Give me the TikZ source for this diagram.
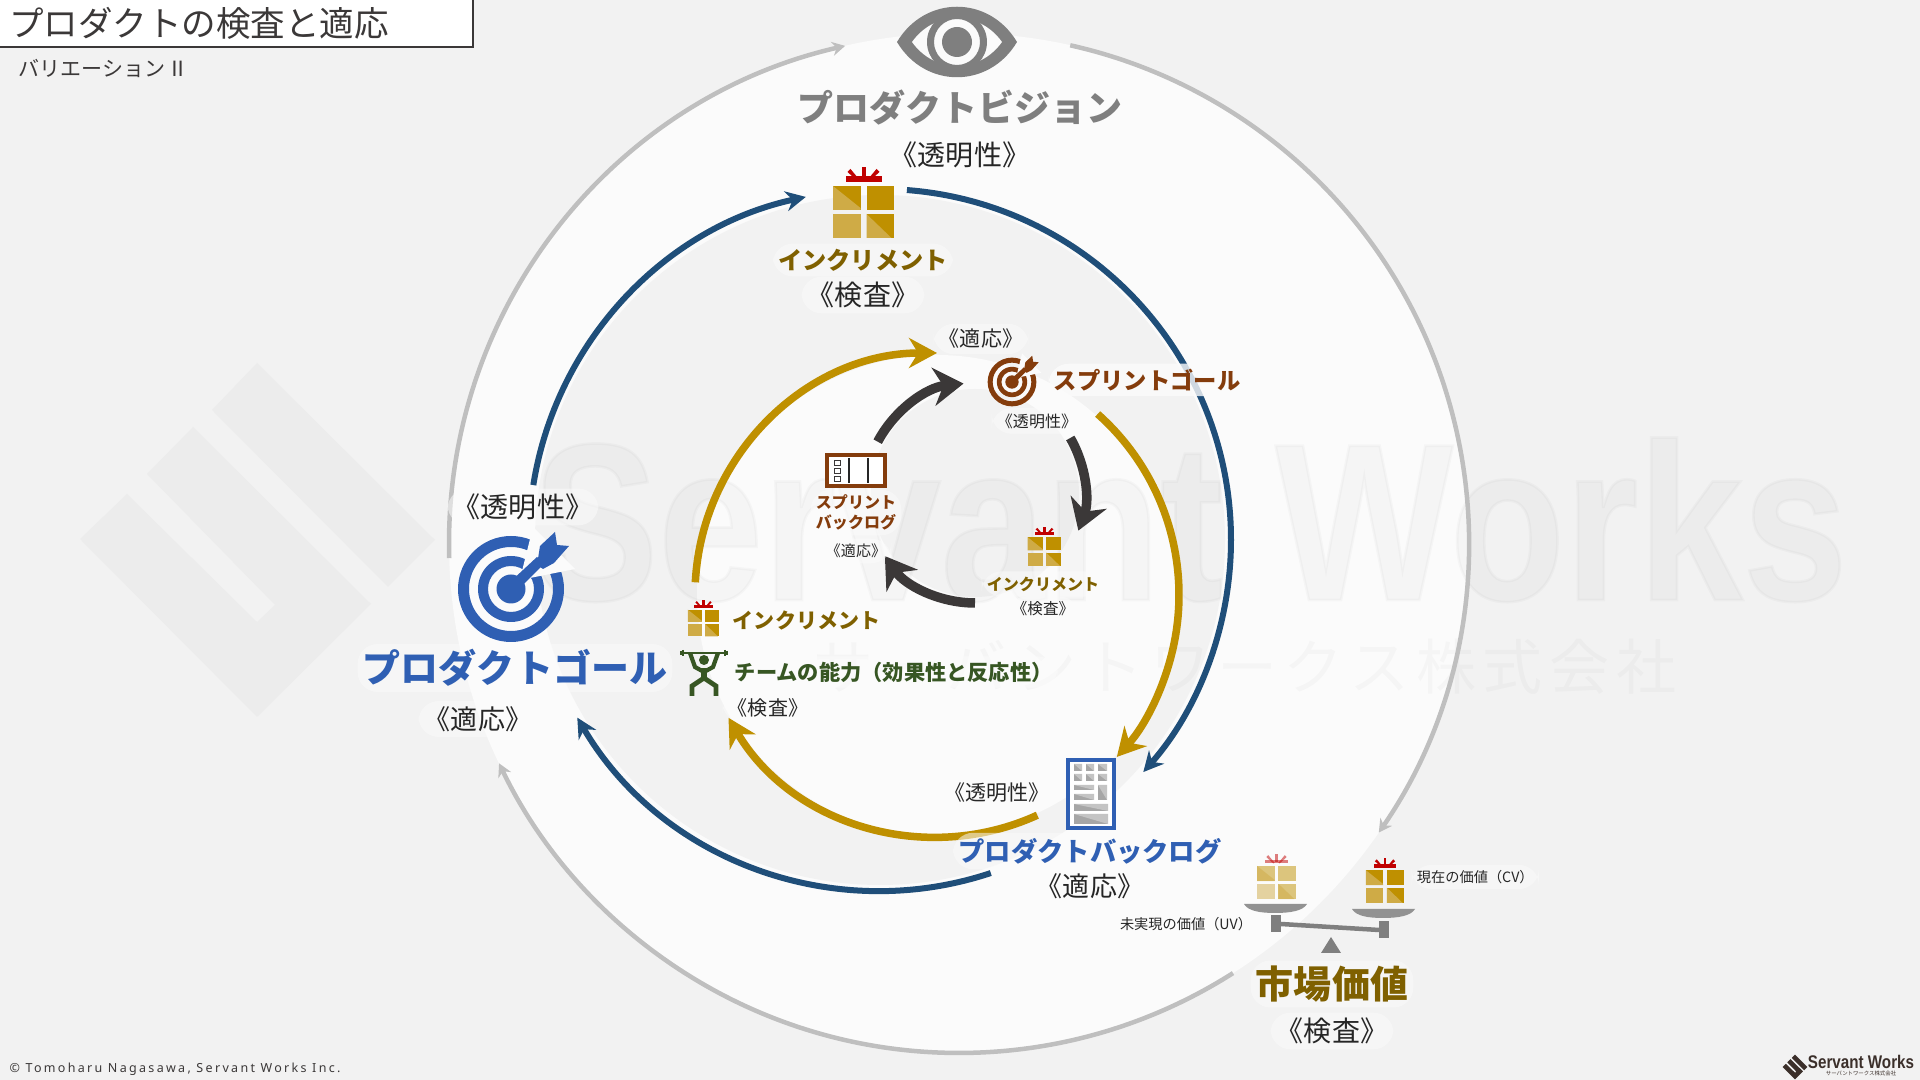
\documentclass[tikz,border=0pt]{standalone}
\usepackage{fontspec}
\setmainfont{Noto Sans CJK JP}
\newfontfamily\markfont[FakeStretch=0.84,FakeBold=1.2]{Liberation Sans}
\newfontfamily\brandfont[FakeStretch=0.83]{Liberation Sans}
\newfontfamily\copyfont[LetterSpace=18.5]{Noto Sans}
\newfontfamily\wmfont[LetterSpace=11.5]{Noto Sans CJK JP}
\newfontfamily\blackfont{Noto Sans CJK JP Black}
\usetikzlibrary{arrows.meta}
\definecolor{PageGrey}{HTML}{F2F2F2}
\definecolor{RingWhite}{HTML}{FBFBFB}
\definecolor{LabelInk}{HTML}{262626}
\definecolor{TitleInk}{HTML}{3B3838}
\definecolor{VisionGrey}{HTML}{7F7F7F}
\definecolor{OuterGrey}{HTML}{BFBFBF}
\definecolor{ProductBlue}{HTML}{2F5FB3}
\definecolor{LoopBlue}{HTML}{1F4E79}
\definecolor{LoopGold}{HTML}{BF9000}
\definecolor{LoopDark}{HTML}{3B3838}
\definecolor{GiftText}{HTML}{7F6000}
\definecolor{GiftLight}{HTML}{CFAB46}
\definecolor{GiftRed}{HTML}{C00000}
\definecolor{SprintBrown}{HTML}{843C0C}
\definecolor{TeamGreen}{HTML}{375623}
\definecolor{BlockGrey}{HTML}{A6A6A6}
\definecolor{BlockLight}{HTML}{C4C4C4}
\definecolor{BrandInk}{HTML}{3B2F2A}
% 1 unit of the picture = 1 px of the 1920x1080 slide
\newcommand{\pxfont}[1]{\pgfmathsetmacro\pxpt{#1*0.2845}\pgfmathsetmacro\pxbl{#1*0.2845*1.22}\fontsize{\pxpt}{\pxbl}\selectfont}
\tikzset{
  every node/.style={text=LabelInk, inner sep=1.5pt},
  halo/.style={fill=RingWhite, fill opacity=0.55, text opacity=1, rounded corners=2mm},
  heading/.style={halo, font=\pxfont{#1}\bfseries},
  phase/.style={halo, font=\pxfont{#1}},
  bluearc/.style={-{Stealth[length=2mm,width=2mm]}, draw=LoopBlue, line width=0.6mm},
  goldarc/.style={-{Stealth[length=2.8mm,width=3mm]}, draw=LoopGold, line width=0.75mm},
  darkarc/.style={-{Stealth[length=3mm,width=3.8mm]}, draw=LoopDark, line width=0.95mm},
  greyarc/.style={-{Stealth[length=1.3mm,width=1.4mm]}, draw=OuterGrey, line width=0.45mm},
  pics/giftbox/.style={code={
    \fill[GiftRed] (-18,-36) rectangle (18,-30);
    \fill[GiftRed] (-2,-32) rectangle (2,-45);
    \fill[GiftRed] (-3,-31) -- (-13,-43) -- (-16,-40) -- (-5,-30) -- cycle;
    \fill[GiftRed] (3,-31) -- (13,-43) -- (16,-40) -- (5,-30) -- cycle;
    \fill[LoopGold] (-30.5,-26) rectangle (-3,-2);
    \fill[GiftLight] (-30.5,-26) -- (-3,-4) -- (-3,-2) -- (-30.5,-2) -- cycle;
    \fill[LoopGold] (3,-26) rectangle (30.5,-2);
    \fill[GiftLight] (-30.5,2) rectangle (-3,26);
    \fill[LoopGold] (3,2) rectangle (30.5,26);
    \fill[GiftLight] (3,2) -- (28,26) -- (3,26) -- cycle;
  }},
  pics/target/.style={code={
    \fill[#1, even odd rule] (0,0) circle (53) (0,0) circle (42);
    \fill[#1, even odd rule] (0,0) circle (33) (0,0) circle (23);
    \fill[RingWhite] (10,-14) -- (14,-10) -- (64,-20) -- (22,-62) -- cycle;
    \fill[#1] (0,0) circle (14.5);
    \fill[#1] (-2,-6) -- (6,2) -- (33,-25) -- (26,-32) -- cycle;
    \fill[#1] (26,-24) -- (29,-43) -- (44,-57) -- (46,-44) -- (58,-43) -- (43,-26) -- (32,-20) -- cycle;
  }},
  pics/swmark/.style={code={
    \fill[#1] (0,-177) -- (178,0) -- (131,47) -- (-45,-130) -- cycle;
    \fill[#1] (-64,-113) -- (114,64) -- (0,177) -- (-177,-1) -- (-130,-46)
      -- (0,82) -- (18,65) -- (-110,-66) -- cycle;
  }},
}
\begin{document}
\begin{tikzpicture}[x=0.01cm,y=-0.01cm]
  \useasboundingbox (0,0) rectangle (1920,1080);
  \fill[PageGrey] (0,0) rectangle (1920,1080);
  % nested discs behind the loops
  \coordinate (visionC) at (959,543);
  \coordinate (blueC) at (880,540);
  \coordinate (goldC) at (937,595);
  \coordinate (darkC) at (975,493);
  \fill[RingWhite] (visionC) circle (510);
  \fill[PageGrey] (blueC) circle (345);
  \fill[RingWhite] (goldC) circle (240);
  \fill[PageGrey] (darkC) circle (104);
  % watermark
  \pic at (257,540) {swmark=black!2.6!PageGrey};
  \node[text=black, text opacity=0.025, font=\pxfont{224}\markfont\bfseries, anchor=base west, inner sep=0pt] (wmName) at (532,600) {Servant Works};
  \node[text=black, text opacity=0.022, font=\pxfont{60}\wmfont, anchor=center, inner sep=0pt] (wmKana) at (1245,667) {サーバントワークス株式会社};
  % loops
  \foreach \a/\b in {178.3/257.1, -77.4/34.6, 57.5/154.4}
    \draw[greyarc] (visionC) ++(\a:510) arc[start angle=\a, end angle=\b, radius=510];
  \foreach \a/\b in {189/257.8, -85.6/41.4, 71.6/149.6}
    \draw[bluearc] (blueC) ++(\a:351) arc[start angle=\a, end angle=\b, radius=351];
  \foreach \a/\b in {183/270, -48.4/42, 65.5/149.5}
    \draw[goldarc] (goldC) ++(\a:242) arc[start angle=\a, end angle=\b, radius=242];
  \foreach \a/\b in {207.8/264, -30/20, 90/145}
    \draw[darkarc] (darkC) ++(\a:110) arc[start angle=\a, end angle=\b, radius=110];
  % title
  \node[draw=TitleInk, line width=0.2mm, fill=white, text=TitleInk, anchor=north west, minimum width=4.74cm, minimum height=0.48cm, inner sep=0pt, text width=4.62cm, align=left, font=\pxfont{34.5}] (titleBox) at (-2,-2) {\hspace*{0.04cm}プロダクトの検査と適応};
  \node[text=TitleInk, anchor=west, inner sep=0pt, font=\pxfont{21}] (subTitle) at (18,68) {バリエーション\hspace{0.02cm}Ⅱ};
  % vision
  \fill[VisionGrey] (897,42) .. controls (925,-5) and (989,-5) .. (1017,42) .. controls (989,89) and (925,89) .. cycle;
  \fill[RingWhite] (912,42) .. controls (935,10) and (979,10) .. (1002,42) .. controls (979,74) and (935,74) .. cycle;
  \fill[VisionGrey, even odd rule] (957,42) circle (30) (957,42) circle (23);
  \fill[VisionGrey] (957,42) circle (15);
  \node[heading=36, text=VisionGrey] (visionName) at (960,108) {プロダクトビジョン};
  \node[phase=28] (visionPhase) at (960,155) {《透明性》};
  % increment on the blue loop
  \pic at (863.5,212) {giftbox};
  \node[heading=24.2, text=GiftText] (incName) at (863,260) {インクリメント};
  \node[phase=28] (incPhase) at (863,295) {《検査》};
  % product goal
  \pic at (511,589) {target=ProductBlue};
  \node[phase=28] (goalTop) at (523,507) {《透明性》};
  \node[heading=38, text=ProductBlue] (goalName) at (515,668) {プロダクトゴール};
  \node[phase=27] (goalPhase) at (478,719) {《適応》};
  % increment and team on the gold loop
  \pic[scale=0.51] at (703.5,623) {giftbox};
  \node[heading=21, text=GiftText, anchor=west] (midInc) at (727,621) {インクリメント};
  \fill[TeamGreen] (704,660) circle (5);
  \draw[TeamGreen, line width=0.13mm] (683,650) -- (683,656) (725,650) -- (725,656);
  \draw[TeamGreen, line width=0.13mm] (681,651) -- (681,655) (727,651) -- (727,655);
  \draw[TeamGreen, line width=0.18mm] (683,653) -- (725,653);
  \draw[TeamGreen, line width=0.42mm] (690,653) -- (695,667) -- (704,672) -- (713,667) -- (718,653);
  \draw[TeamGreen, line width=0.6mm] (704,668) -- (704,678);
  \draw[TeamGreen, line width=0.48mm] (692,696) -- (692,686) -- (704,678) -- (716,686) -- (716,696);
  \node[heading=21.2, text=TeamGreen, anchor=west] (teamName) at (729,672) {チームの能力（効果性と反応性）};
  \node[phase=20] (teamPhase) at (768,708) {《検査》};
  % product backlog
  \draw[ProductBlue, line width=0.45mm, fill=white] (1068,760) rectangle (1114,828);
  \foreach \xa/\ya/\xb/\yb in {1074/764/1082/771, 1086/764/1094/771, 1098/764/1107/771,
    1074/774/1082/781, 1086/774/1094/781, 1098/774/1107/781,
    1074/785/1094/790, 1074/794/1094/800, 1098/785/1107/800,
    1074/804/1108/811, 1074/814/1108/824}{
    \fill[BlockGrey] (\xa,\ya) rectangle (\xb,\yb);
    \fill[BlockLight] (\xa,\ya) -- (\xb,\yb) -- (\xb,\ya) -- cycle;
  }
  \node[phase=21] (backlogTop) at (997,793) {《透明性》};
  \node[heading=26.3, text=ProductBlue] (backlogName) at (1090,851) {プロダクトバックログ};
  \node[phase=27] (backlogPhase) at (1090,886) {《適応》};
  % sprint goal
  \node[phase=21] (sprintTop) at (981,339) {《適応》};
  \pic[scale=0.46] at (1012,382) {target=SprintBrown};
  \node[heading=23.3, text=SprintBrown, anchor=west, fill opacity=0.8] (sprintName) at (1048,380) {スプリントゴール};
  \node[phase=16] (sprintPhase) at (1037,421) {《透明性》};
  % sprint backlog
  \draw[SprintBrown, line width=0.38mm, fill=white] (827,455) rectangle (885,486);
  \foreach \x in {849,868}
    \draw[LabelInk, line width=0.13mm] (\x,458) -- (\x,483);
  \foreach \y in {460,468,476}
    \draw[LoopDark, line width=0.05mm] (834.5,\y) rectangle (840.5,\y+5);
  \node[heading=16, text=SprintBrown, align=center] (sprintLog) at (856,512.5) {スプリント\\バックログ};
  \node[phase=15] (sprintLogPhase) at (856,551) {《適応》};
  % increment on the dark loop
  \pic[scale=0.55] at (1044.5,551.5) {giftbox};
  \node[heading=16, text=GiftText] (darkInc) at (1043,584) {インクリメント};
  \node[phase=15.5] (darkIncPhase) at (1043,609) {《検査》};
  % market value
  \pic[scale=0.635, opacity=0.5] at (1276.5,882.5) {giftbox};
  \pic[scale=0.63] at (1385,886.5) {giftbox};
  \fill[VisionGrey!85] (1244,904) -- (1307,904) .. controls (1303,911) and (1290,913) .. (1275,913) .. controls (1260,913) and (1248,911) .. cycle;
  \fill[VisionGrey!85] (1352,909) -- (1415,909) .. controls (1411,916) and (1398,918) .. (1383,918) .. controls (1368,918) and (1356,916) .. cycle;
  \fill[VisionGrey] (1271,915) rectangle (1281,932);
  \fill[VisionGrey] (1379,921) rectangle (1389,938);
  \draw[VisionGrey, line width=0.45mm] (1281,924) -- (1379,930);
  \fill[VisionGrey] (1331,937) -- (1341,953) -- (1321,953) -- cycle;
  \node[phase=14.2, anchor=east] (uvLabel) at (1258,924) {未実現の価値（UV）};
  \node[phase=14.2, anchor=west] (cvLabel) at (1411,877) {現在の価値（CV）};
  \node[halo, font=\pxfont{38}\blackfont, text=GiftText] (marketName) at (1332,984) {市場価値};
  \node[phase=28] (marketPhase) at (1332,1031) {《検査》};
  % footer
  \node[anchor=west, inner sep=0pt, text=TitleInk, font=\pxfont{12.5}\copyfont] (copyNote) at (9,1069) {© Tomoharu Nagasawa, Servant Works Inc.};
  \pic[scale=0.07] at (1795,1067) {swmark=BrandInk};
  \node[anchor=center, inner sep=0pt, text=BrandInk, font=\pxfont{18.3}\brandfont\bfseries] (brandName) at (1861,1062) {Servant Works};
  \node[anchor=center, inner sep=0pt, text=BrandInk, font=\pxfont{5.4}] (brandKana) at (1861,1073) {サーバントワークス株式会社};
\end{tikzpicture}
\end{document}
